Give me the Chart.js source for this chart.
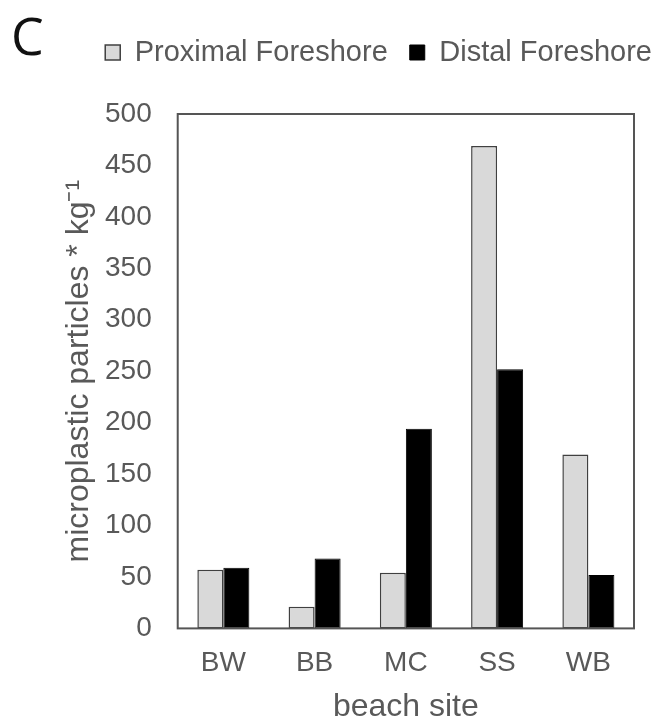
<!DOCTYPE html>
<html>
<head>
<meta charset="utf-8">
<script src="https://cdn.jsdelivr.net/npm/chart.js@4.4.1/dist/chart.umd.min.js"></script>
<style>
  html, body { margin: 0; padding: 0; background: #fff; }
  #wrap { position: relative; width: 657px; height: 723px; }
</style>
</head>
<body>
<div id="wrap"><canvas id="beachChart"></canvas></div>
<script>
const sites = ['BW', 'BB', 'MC', 'SS', 'WB'];
const proximal = [57, 21, 54, 469, 169];
const distal = [59, 68, 194, 252, 52];
const yTicks = [0, 50, 100, 150, 200, 250, 300, 350, 400, 450, 500];

const textGrey = '#595959';

// panel letter in the top left corner
const panelLetter = {
  id: 'panelLetter',
  afterDraw(chart) {
    const ctx = chart.ctx;
    ctx.save();
    ctx.fillStyle = '#111';
    ctx.font = '52px "Open Sans"';
    ctx.textBaseline = 'alphabetic';
    ctx.fillText('C', 11, 55);
    ctx.restore();
  }
};

// box around the plot area
const plotFrame = {
  id: 'plotFrame',
  afterDatasetsDraw(chart) {
    const a = chart.chartArea;
    const ctx = chart.ctx;
    ctx.save();
    ctx.strokeStyle = '#555';
    ctx.lineWidth = 2;
    ctx.strokeRect(a.left, a.top, a.right - a.left, a.bottom - a.top);
    ctx.restore();
  }
};

// more room under the legend, and let it run a bit past the plot on the right
const legendRoom = {
  id: 'legendRoom',
  beforeInit(chart) {
    const fit = chart.legend.fit;
    chart.legend.fit = function () {
      fit.bind(chart.legend)();
      this.height += 37;
    };
  },
  afterLayout(chart) {
    chart.legend.right += 40;
  }
};

const ctx = document.getElementById('beachChart').getContext('2d');
new Chart(ctx, {
  type: 'bar',
  data: {
    labels: sites,
    datasets: [
      {
        label: 'Proximal Foreshore',
        data: proximal,
        backgroundColor: '#d9d9d9',
        borderColor: '#404040',
        borderWidth: 1.5,
        borderSkipped: false
      },
      {
        label: 'Distal Foreshore',
        data: distal,
        backgroundColor: '#000',
        borderColor: '#000',
        borderWidth: 1,
        borderSkipped: false
      }
    ]
  },
  options: {
    responsive: true,
    maintainAspectRatio: false,
    animation: false,
    layout: { padding: { top: 16, right: 23, bottom: 0, left: 20 } },
    datasets: {
      bar: { categoryPercentage: 0.57, barPercentage: 1.0 }
    },
    plugins: {
      legend: {
        position: 'top',
        align: 'end',
        labels: {
          color: textGrey,
          font: { family: '"Liberation Sans", Arial, sans-serif', size: 29 },
          boxWidth: 15,
          boxHeight: 15,
          padding: 22
        }
      },
      tooltip: { enabled: false }
    },
    scales: {
      x: {
        grid: { display: false, drawTicks: false },
        border: { display: false },
        ticks: {
          color: textGrey,
          padding: 18,
          font: { family: '"Liberation Sans", Arial, sans-serif', size: 28 }
        },
        title: {
          display: true,
          text: 'beach site',
          color: textGrey,
          padding: { top: -7, bottom: 0 },
          font: { family: '"Liberation Sans", Arial, sans-serif', size: 32, lineHeight: 1 }
        }
      },
      y: {
        min: 0,
        max: 500,
        afterBuildTicks(scale) {
          scale.ticks = yTicks.map(v => ({ value: v }));
        },
        grid: { display: false, drawTicks: false },
        border: { display: false },
        ticks: {
          color: textGrey,
          padding: 26,
          font: { family: '"Liberation Sans", Arial, sans-serif', size: 28 }
        },
        title: {
          display: true,
          text: 'microplastic particles * kg\u207B\u00B9',
          color: textGrey,
          padding: { top: 43, bottom: -16 },
          font: { family: '"Liberation Sans", Arial, sans-serif', size: 32, lineHeight: 1 }
        }
      }
    }
  },
  plugins: [panelLetter, plotFrame, legendRoom]
});
</script>
</body>
</html>
